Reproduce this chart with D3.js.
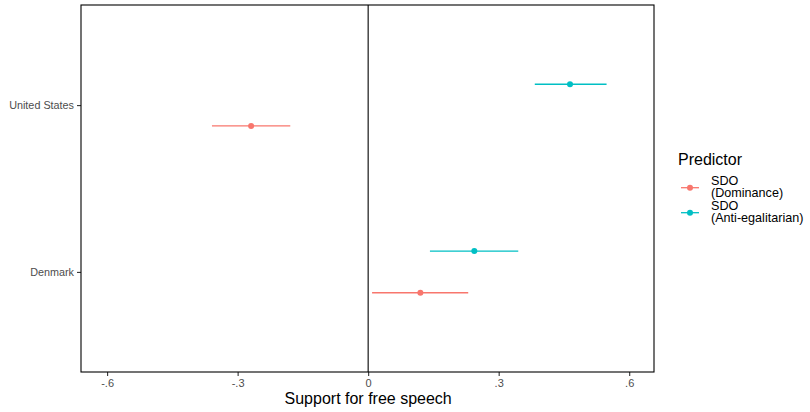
<!DOCTYPE html>
<html>
<head>
<meta charset="utf-8">
<script src="https://cdn.jsdelivr.net/npm/d3@7"></script>
<style>
  body { margin: 0; background: #fff; }
  svg { font-family: "Liberation Sans", Arial, sans-serif; }
</style>
</head>
<body>
<div id="chart"></div>
<script>
// data
const countries = ["United States", "Denmark"];
const predictors = ["SDO\n(Dominance)", "SDO\n(Anti-egalitarian)"];
const colors = ["#F8766D", "#00BFC4"];
const xTicks = [-0.6, -0.3, 0, 0.3, 0.6];
const xTickLabels = ["-.6", "-.3", "0", ".3", ".6"];

// estimate, low, high per country for each predictor
const dominanceEst  = [-0.269, 0.120];
const dominanceLo   = [-0.359, 0.009];
const dominanceHi   = [-0.179, 0.230];
const antiEgalEst   = [0.464, 0.244];
const antiEgalLo    = [0.383, 0.142];
const antiEgalHi    = [0.548, 0.345];

const rows = [];
countries.forEach((c, i) => {
  rows.push({ country: c, pred: 0, est: dominanceEst[i], lo: dominanceLo[i], hi: dominanceHi[i] });
  rows.push({ country: c, pred: 1, est: antiEgalEst[i], lo: antiEgalLo[i], hi: antiEgalHi[i] });
});

const W = 810, H = 412;
const margin = { top: 5, right: 156, bottom: 40, left: 81 };
const width = W - margin.left - margin.right,
      height = H - margin.top - margin.bottom;

const svg = d3.select("#chart").append("svg")
    .attr("width", W)
    .attr("height", H);

const g = svg.append("g")
    .attr("transform", `translate(${margin.left},${margin.top})`);

// scales
const x = d3.scaleLinear()
    .domain([-0.66, 0.657])
    .range([0, width]);

// discrete axis with ggplot-style 0.6 expansion
const yPos = d3.scaleLinear()
    .domain([0.4, 2.6])
    .range([0, height]);
const y = c => yPos(countries.indexOf(c) + 1);
const dodge = 0.125; // in category units

// zero reference line
g.append("line")
    .attr("x1", x(0)).attr("x2", x(0))
    .attr("y1", 0).attr("y2", height)
    .attr("stroke", "#000")
    .attr("stroke-width", 1.1);

// error bars
const marks = g.append("g");
rows.forEach(d => {
  const yy = y(d.country) + (d.pred === 0 ? 1 : -1) * dodge * (yPos(2) - yPos(1));
  marks.append("line")
      .attr("x1", x(d.lo)).attr("x2", x(d.hi))
      .attr("y1", yy).attr("y2", yy)
      .attr("stroke", colors[d.pred])
      .attr("stroke-width", 1.3);
  marks.append("circle")
      .attr("cx", x(d.est)).attr("cy", yy)
      .attr("r", 3)
      .attr("fill", colors[d.pred]);
});

// x axis
const xAxis = g.append("g")
    .attr("transform", `translate(0,${height})`)
    .call(d3.axisBottom(x).tickValues(xTicks)
      .tickFormat((d, i) => xTickLabels[i]).tickSize(4).tickSizeOuter(0).tickPadding(3));
xAxis.select(".domain").remove();
xAxis.selectAll("line").attr("stroke", "#333").attr("stroke-width", 1.1);
xAxis.selectAll("text").attr("fill", "#4D4D4D").style("font-size", "11px")
    .style("font-family", "Liberation Sans, Arial, sans-serif");

// y axis
const yAxis = g.append("g")
    .call(d3.axisLeft(d3.scalePoint().domain(countries).range([y(countries[0]), y(countries[1])]))
      .tickSize(4).tickSizeOuter(0).tickPadding(3));
yAxis.select(".domain").remove();
yAxis.selectAll("line").attr("stroke", "#333").attr("stroke-width", 1.1);
yAxis.selectAll("text").attr("fill", "#4D4D4D").style("font-size", "10.8px")
    .style("font-family", "Liberation Sans, Arial, sans-serif");

// panel border
g.append("rect")
    .attr("x", 0).attr("y", 0)
    .attr("width", width).attr("height", height)
    .attr("fill", "none")
    .attr("stroke", "#000")
    .attr("stroke-width", 1.1);

// axis title
svg.append("text")
    .attr("x", margin.left + x(0))
    .attr("y", 404)
    .attr("text-anchor", "middle")
    .style("font-size", "16px")
    .attr("fill", "#000")
    .text("Support for free speech");

// legend
const legend = svg.append("g").attr("transform", "translate(678,0)");
legend.append("text")
    .attr("x", 0).attr("y", 165)
    .style("font-size", "16px")
    .text("Predictor");

const keyY = [187.7, 212.7];
predictors.forEach((p, i) => {
  const k = legend.append("g").attr("transform", `translate(0,${keyY[i]})`);
  k.append("line")
      .attr("x1", 3).attr("x2", 21)
      .attr("stroke", colors[i]).attr("stroke-width", 1.3);
  k.append("circle").attr("cx", 12).attr("r", 3).attr("fill", colors[i]);
  const t = k.append("text")
      .attr("x", 33)
      .attr("y", -2.5)
      .style("font-size", "12.6px")
      .attr("fill", "#000");
  p.split("\n").forEach((line, j) => {
    t.append("tspan").attr("x", 33).attr("dy", j === 0 ? 0 : 11.6).text(line);
  });
});
</script>
</body>
</html>
